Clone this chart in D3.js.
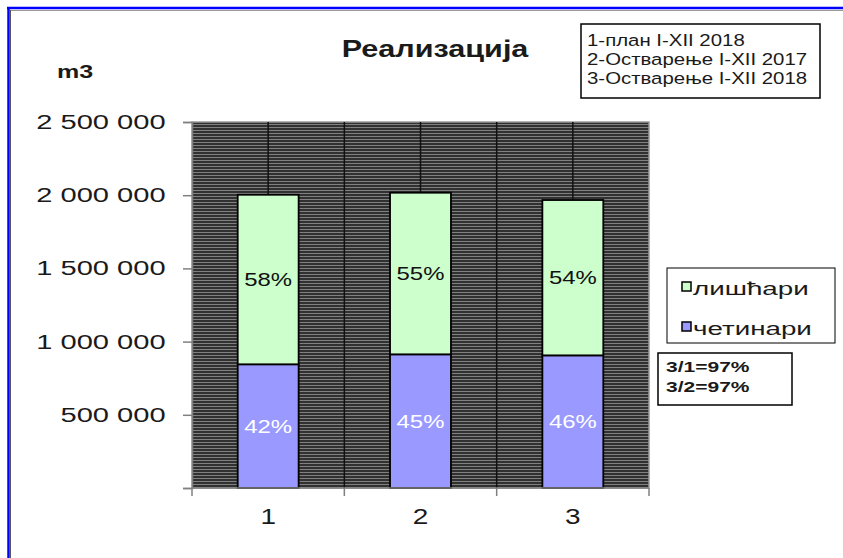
<!DOCTYPE html>
<meta charset="utf-8">
<style>
body { margin: 0; background: #fff; }
text { font-family: "Liberation Sans", Arial, sans-serif; fill: #1a1a1a; }
</style>
<body>
<svg width="843" height="558"></svg>
<script src="https://cdn.jsdelivr.net/npm/d3@7"></script>
<script>

// data
var categories = ["1", "2", "3"];
var seriesNames = ["лишћари", "четинари"];
var cetinari = [845000, 913000, 906000];
var liscari = [1158000, 1104000, 1061000];
var yTicks = [0, 500000, 1000000, 1500000, 2000000, 2500000];
var periodLabels = ["1-план I-XII 2018", "2-Остварење I-XII 2017", "3-Остварење I-XII 2018"];
var ratioLabels = ["3/1=97%", "3/2=97%"];
var colors = {"лишћари": "#ccffcc", "четинари": "#9999ff"};

var svg = d3.select("svg");

var plotL = 192, plotR = 649, plotT = 122, plotB = 488;

var rows = categories.map(function(c, i) {
  return {cat: c, "четинари": cetinari[i], "лишћари": liscari[i]};
});

var x = d3.scaleBand().domain(categories).range([plotL, plotR]).paddingInner(0.6).paddingOuter(0.3);
var xc = d3.scaleBand().domain(categories).range([plotL, plotR]);
var y = d3.scaleLinear().domain([0, 2500000]).range([plotB, plotT]);

// hatched plot background
var defs = svg.append("defs");
var pat = defs.append("pattern")
    .attr("id", "stripes")
    .attr("patternUnits", "userSpaceOnUse")
    .attr("width", 8).attr("height", 3);
pat.append("rect").attr("width", 8).attr("height", 3).attr("fill", "#313131");
pat.append("rect").attr("y", 1).attr("width", 8).attr("height", 1).attr("fill", "#808080");

// outer frame
svg.append("line").attr("x1", 7).attr("x2", 843).attr("y1", 8).attr("y2", 8)
    .attr("stroke", "#0000ff").attr("stroke-width", 2.5);
svg.append("line").attr("x1", 8.5).attr("x2", 8.5).attr("y1", 7).attr("y2", 558)
    .attr("stroke", "#0000ff").attr("stroke-width", 2.5);
svg.append("line").attr("x1", 10).attr("x2", 843).attr("y1", 10.5).attr("y2", 10.5)
    .attr("stroke", "#999").attr("stroke-width", 1);
svg.append("line").attr("x1", 10.5).attr("x2", 10.5).attr("y1", 10).attr("y2", 558)
    .attr("stroke", "#555").attr("stroke-width", 1);

// plot area
svg.append("rect")
    .attr("x", plotL).attr("y", plotT)
    .attr("width", plotR - plotL).attr("height", plotB - plotT)
    .attr("fill", "url(#stripes)")
    .attr("stroke", "#9a9a9a").attr("stroke-width", 1.5);

// vertical gridlines at every half category
var gridX = [];
categories.forEach(function(c, i) {
  if (i > 0) gridX.push(xc(c));
  gridX.push(xc(c) + xc.bandwidth() / 2);
});
svg.append("g").selectAll("line")
  .data(gridX)
  .enter().append("line")
    .attr("x1", function(d) { return d; })
    .attr("x2", function(d) { return d; })
    .attr("y1", plotT).attr("y2", plotB)
    .attr("stroke", "#111").attr("stroke-width", 1.5);

// stacked bars
var stack = d3.stack().keys(["четинари", "лишћари"]);
var layers = stack(rows);

var bars = svg.append("g").selectAll("g")
  .data(layers)
  .enter().append("g")
    .attr("fill", function(d) { return colors[d.key]; });

bars.selectAll("rect")
  .data(function(d) { return d; })
  .enter().append("rect")
    .attr("x", function(d) { return x(d.data.cat); })
    .attr("y", function(d) { return y(d[1]); })
    .attr("width", x.bandwidth())
    .attr("height", function(d) { return y(d[0]) - y(d[1]); })
    .attr("stroke", "#000").attr("stroke-width", 1.8);

// percent labels
var pct = d3.format(".0%");
layers.forEach(function(layer) {
  svg.append("g").selectAll("text")
    .data(layer)
    .enter().append("text")
      .attr("transform", function(d) {
        var cx = x(d.data.cat) + x.bandwidth() / 2;
        var cy = (y(d[0]) + y(d[1])) / 2;
        return "translate(" + cx + "," + cy + ") scale(1.33,1)";
      })
      .attr("text-anchor", "middle")
      .attr("dy", "0.36em")
      .style("font-size", "18px")
      .style("fill", layer.key === "четинари" ? "#fff" : "#111")
      .text(function(d) {
        var total = d.data["четинари"] + d.data["лишћари"];
        return pct((d[1] - d[0]) / total);
      });
});

// y axis
var yAxis = svg.append("g")
    .attr("transform", "translate(" + plotL + ",0)")
    .call(d3.axisLeft(y).tickValues(yTicks).tickSize(9).tickPadding(9.6)
      .tickFormat(function(d) { return d === 0 ? "" : d3.format(",")(d).replace(/,/g, " "); }));
yAxis.select(".domain").attr("stroke", "#808080").attr("stroke-width", 1.5);
yAxis.selectAll(".tick line").attr("stroke", "#808080").attr("stroke-width", 1.5);
yAxis.selectAll(".tick text")
    .attr("transform", "scale(1.42,1)")
    .style("font-family", "'Liberation Sans', Arial, sans-serif")
    .style("font-size", "20.5px")
    .style("fill", "#1a1a1a");

// x axis
var xAxis = svg.append("g");
xAxis.append("line")
    .attr("x1", plotL).attr("x2", plotR).attr("y1", plotB).attr("y2", plotB)
    .attr("stroke", "#808080").attr("stroke-width", 1.5);
var xTickPos = categories.map(function(c) { return xc(c); }).concat([plotR]);
xAxis.selectAll(".xt")
  .data(xTickPos)
  .enter().append("line")
    .attr("x1", function(d) { return d; })
    .attr("x2", function(d) { return d; })
    .attr("y1", plotB).attr("y2", plotB + 8)
    .attr("stroke", "#808080").attr("stroke-width", 1.5);
xAxis.selectAll("text")
  .data(categories)
  .enter().append("text")
    .attr("transform", function(d) {
      return "translate(" + (xc(d) + xc.bandwidth() / 2) + "," + (plotB + 36) + ") scale(1.3,1)";
    })
    .attr("text-anchor", "middle")
    .style("font-size", "21.5px")
    .text(function(d) { return d; });

// title and unit
svg.append("text")
    .attr("transform", "translate(435,57) scale(1.33,1)")
    .attr("text-anchor", "middle")
    .style("font-size", "23px").style("font-weight", "bold")
    .text("Реализација");
svg.append("text")
    .attr("transform", "translate(57,78) scale(1.32,1)")
    .style("font-size", "19px").style("font-weight", "bold")
    .text("m3");

// period box
svg.append("rect")
    .attr("x", 581).attr("y", 24).attr("width", 239).attr("height", 74)
    .attr("fill", "#fff").attr("stroke", "#000").attr("stroke-width", 1.5);
svg.append("g").selectAll("text")
  .data(periodLabels)
  .enter().append("text")
    .attr("transform", function(d, i) { return "translate(587," + (46 + i * 19) + ") scale(1.2,1)"; })
    .style("font-size", "17px")
    .text(function(d) { return d; });

// series legend
svg.append("rect")
    .attr("x", 667).attr("y", 268).attr("width", 168).attr("height", 75)
    .attr("fill", "#fff").attr("stroke", "#000").attr("stroke-width", 1);
var leg = svg.append("g").selectAll("g")
  .data(seriesNames)
  .enter().append("g")
    .attr("transform", function(d, i) { return "translate(682," + (282 + i * 40) + ")"; });
leg.append("rect")
    .attr("width", 9).attr("height", 9)
    .attr("fill", function(d) { return colors[d]; })
    .attr("stroke", "#000").attr("stroke-width", 1.5);
leg.append("text")
    .attr("transform", "translate(11,13) scale(1.5,1)")
    .style("font-size", "18.5px")
    .text(function(d) { return d; });

// ratio box
svg.append("rect")
    .attr("x", 658).attr("y", 353).attr("width", 134).attr("height", 52)
    .attr("fill", "#fff").attr("stroke", "#000").attr("stroke-width", 1.5);
svg.append("g").selectAll("text")
  .data(ratioLabels)
  .enter().append("text")
    .attr("transform", function(d, i) { return "translate(666," + (372 + i * 20) + ") scale(1.45,1)"; })
    .style("font-size", "14.5px").style("font-weight", "bold")
    .text(function(d) { return d; });

</script>
</body>
